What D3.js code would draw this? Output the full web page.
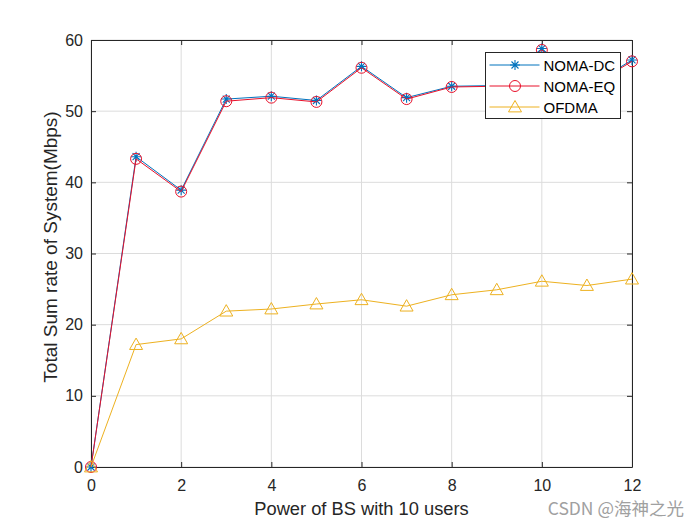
<!DOCTYPE html>
<html><head><meta charset="utf-8">
<script src="https://d3js.org/d3.v7.min.js"></script>
<style>body{margin:0;background:#fff;} text{font-family:"Liberation Sans",Arial,sans-serif;}</style>
</head><body>
<svg id="chart" width="700" height="525"></svg>
<script>
const xValues = [0,1,2,3,4,5,6,7,8,9,10,11,12];
const nomaDC = [0,43.6,38.9,51.7,52.1,51.5,56.3,51.9,53.5,53.6,58.8,53.3,57.2];
const nomaEQ = [0,43.3,38.7,51.4,51.9,51.3,56.1,51.7,53.4,53.5,58.6,53.2,57.0];
const ofdma = [0,17.2,18.0,21.9,22.2,22.9,23.5,22.6,24.2,24.9,26.1,25.5,26.4];
const xTicks = [0,2,4,6,8,10,12];
const yTicks = [0,10,20,30,40,50,60];
const seriesNames = ["NOMA-DC","NOMA-EQ","OFDMA"];

const svg = d3.select("#chart");
const L=91,R=632,T=40,B=467;
const x = d3.scaleLinear().domain([0,12]).range([L,R]);
const y = d3.scaleLinear().domain([0,60]).range([B,T]);

svg.append("rect").attr("x",0).attr("y",0).attr("width",700).attr("height",525).attr("fill","#fff");
// grid
const g = svg.append("g");
g.selectAll(".gx").data(xTicks).enter().append("line")
 .attr("x1",d=>x(d)).attr("x2",d=>x(d)).attr("y1",T).attr("y2",B).attr("stroke","#dcdcdc").attr("stroke-width",1);
g.selectAll(".gy").data(yTicks).enter().append("line")
 .attr("y1",d=>y(d)).attr("y2",d=>y(d)).attr("x1",L).attr("x2",R).attr("stroke","#dcdcdc").attr("stroke-width",1);

// axes
const ax = svg.append("g").attr("transform",`translate(0,${B})`).call(d3.axisBottom(x).tickValues(xTicks).tickSizeInner(-5).tickSizeOuter(0).tickPadding(13));
const ay = svg.append("g").attr("transform",`translate(${L},0)`).call(d3.axisLeft(y).tickValues(yTicks).tickSizeInner(-5).tickSizeOuter(0).tickPadding(8));
const axt = svg.append("g").attr("transform",`translate(0,${T})`).call(d3.axisTop(x).tickValues(xTicks).tickSizeInner(-5).tickSizeOuter(0).tickFormat(""));
const ayr = svg.append("g").attr("transform",`translate(${R},0)`).call(d3.axisRight(y).tickValues(yTicks).tickSizeInner(-5).tickSizeOuter(0).tickFormat(""));
[ax,ay,axt,ayr].forEach(a=>{
  a.selectAll("path,line").attr("stroke","#262626");
  a.selectAll("text").attr("fill","#262626").style("font-size","16px").style("font-family","'Liberation Sans',Arial,sans-serif");
});

const line = d3.line().x((d,i)=>x(xValues[i])).y(d=>y(d));
const colors = ["#0072BD","#E8102A","#EDB120"];
const datas = [nomaDC,nomaEQ,ofdma];

function marker(sel, type, color){
  if(type==="star"){
    const s=5;
    const p = `M${-s},0H${s}M0,${-s}V${s}M${-s*0.7},${-s*0.7}L${s*0.7},${s*0.7}M${-s*0.7},${s*0.7}L${s*0.7},${-s*0.7}`;
    sel.append("path").attr("d",p).attr("stroke",color).attr("stroke-width",1.1).attr("fill","none");
  } else if(type==="circle"){
    sel.append("circle").attr("r",5.5).attr("stroke",color).attr("fill","none").attr("stroke-width",1);
  } else {
    const s=6.5;
    sel.append("path").attr("d",`M0,${-s}L${s},${s*0.75}L${-s},${s*0.75}Z`).attr("stroke",color).attr("fill","none").attr("stroke-width",1);
  }
}
const types=["star","circle","tri"];
datas.forEach((data,k)=>{
  svg.append("path").datum(data).attr("d",line).attr("fill","none").attr("stroke",colors[k]).attr("stroke-width",1);
  data.forEach((v,i)=>{
    const m = svg.append("g").attr("transform",`translate(${x(xValues[i])},${y(v)})`);
    marker(m,types[k],colors[k]);
  });
});

// legend
const lg = svg.append("g").attr("transform","translate(485.5,52.5)");
lg.append("rect").attr("width",135).attr("height",66).attr("fill","#fff").attr("stroke","#262626").attr("stroke-width",1);
seriesNames.forEach((n,k)=>{
  const yy = 12.5+k*21;
  lg.append("line").attr("x1",4).attr("x2",54).attr("y1",yy).attr("y2",yy).attr("stroke",colors[k]).attr("stroke-width",1);
  const m = lg.append("g").attr("transform",`translate(29.5,${yy})`);
  marker(m,types[k],colors[k]);
  lg.append("text").attr("x",58).attr("y",yy+5.5).text(n).attr("fill","#000").style("font-size","15px");
});

// labels
svg.append("text").attr("x",(L+R)/2).attr("y",515).attr("text-anchor","middle").style("font-size","18.3px").attr("fill","#262626").text("Power of BS with 10 users");
svg.append("text").attr("transform",`translate(57,247) rotate(-90)`).attr("text-anchor","middle").style("font-size","19px").attr("fill","#262626").text("Total Sum rate of System(Mbps)");
svg.append("text").attr("x",684).attr("y",515).attr("text-anchor","end").style("font-size","17.5px").style("font-family","'Noto Sans CJK SC',sans-serif").attr("fill","#a0a0a0").text("CSDN @海神之光");
</script>
</body></html>
